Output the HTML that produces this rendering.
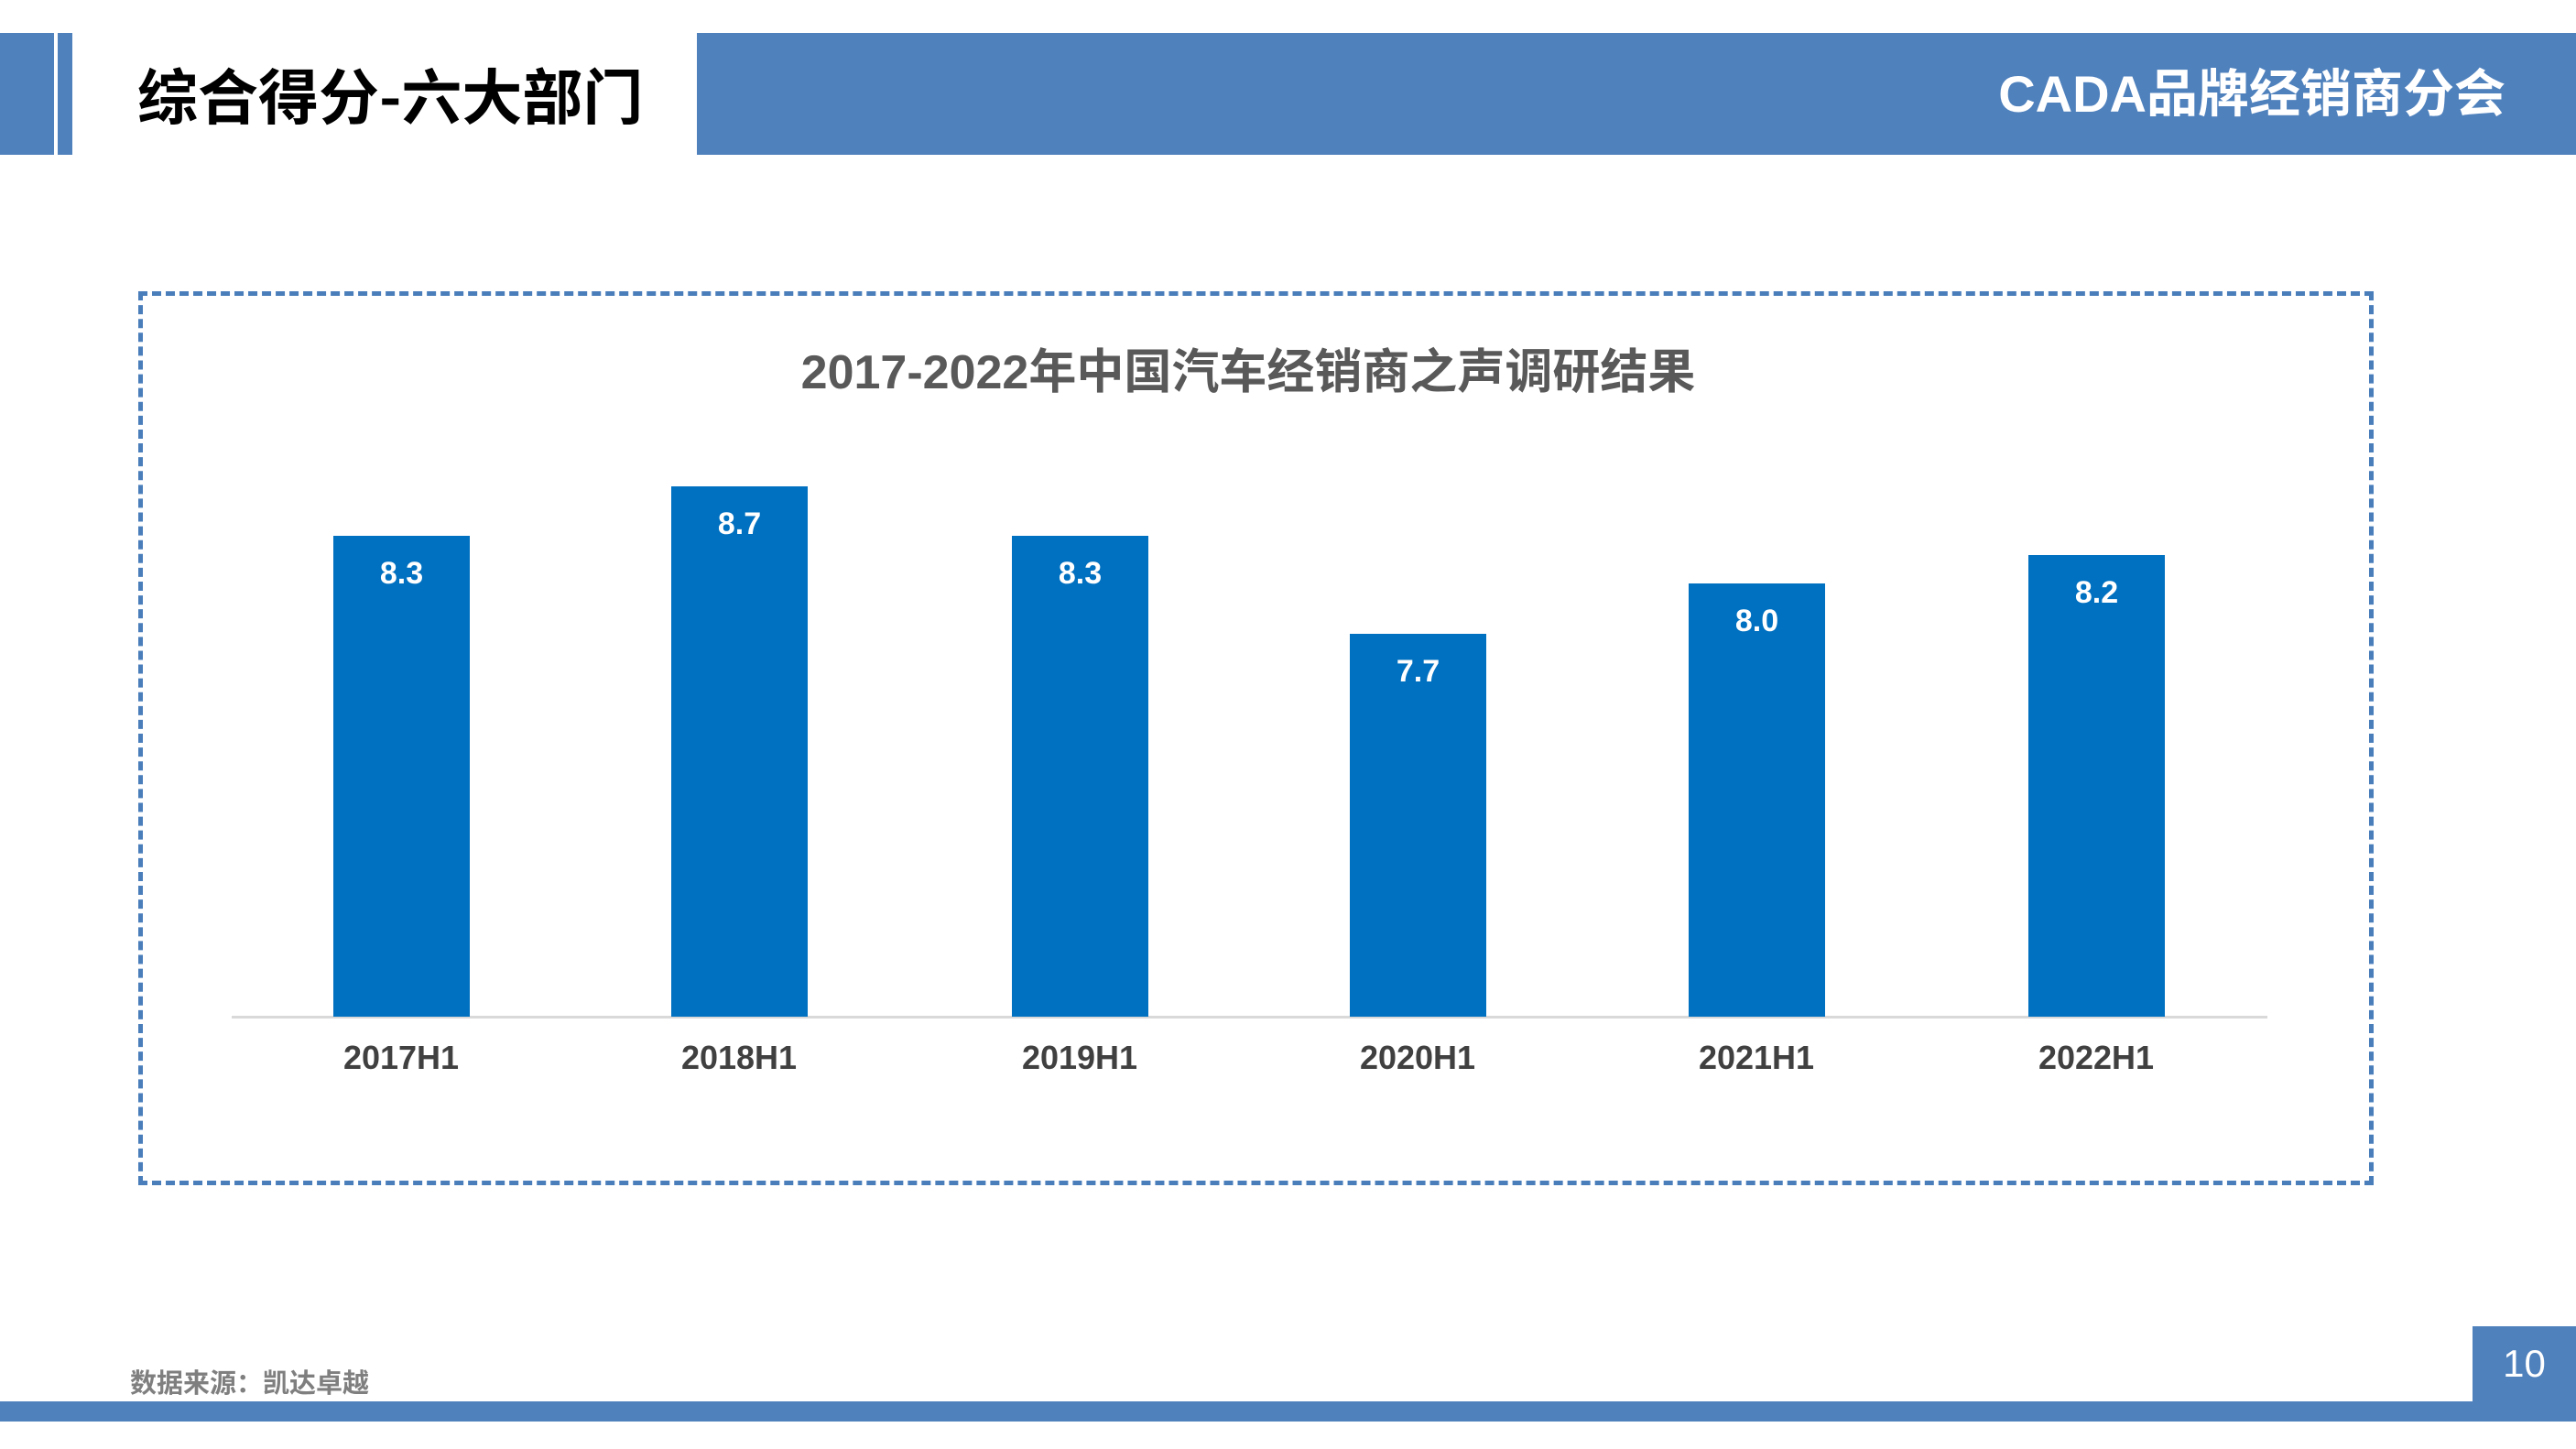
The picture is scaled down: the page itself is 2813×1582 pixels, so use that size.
<!DOCTYPE html>
<html><head><meta charset="utf-8"><style>
*{margin:0;padding:0;box-sizing:border-box}
body{width:2813px;height:1582px;background:#fff;position:relative;overflow:hidden;font-family:"Liberation Sans","Noto Sans CJK SC",sans-serif}
.a{position:absolute}
.bar{position:absolute;width:149px;background:#0070c0;bottom:472px}
.bar span{position:absolute;top:22px;left:0;width:100%;text-align:center;color:#fff;font-weight:bold;font-size:34px}
.xl{position:absolute;top:1134px;width:300px;text-align:center;font-size:36px;font-weight:bold;color:#404040}
</style></head><body>
<div class="a" style="left:0;top:36px;width:59px;height:133px;background:#4f81bd"></div>
<div class="a" style="left:63px;top:36px;width:16px;height:133px;background:#4f81bd"></div>
<div class="a" style="left:150px;top:52px;font-size:66px;font-weight:bold;color:#000;line-height:100px;font-family:'Noto Sans CJK SC',sans-serif">综合得分-六大部门</div>
<div class="a" style="left:761px;top:36px;width:2052px;height:133px;background:#4f81bd"></div>
<div class="a" style="right:77px;top:58px;font-size:56px;font-weight:bold;color:#fff;line-height:90px">CADA品牌经销商分会</div>
<div class="a" style="left:151px;top:318px;width:2441px;height:976px;border:5px dashed #4a7ebb"></div>
<div class="a" style="left:0;width:2726px;text-align:center;top:364px;font-size:52px;font-weight:bold;color:#595959">2017-2022年中国汽车经销商之声调研结果</div>
<div class="a" style="left:253px;top:1109px;width:2223px;height:3px;background:#d9d9d9"></div>
<div class="bar" style="left:364px;top:585px"><span>8.3</span></div>
<div class="bar" style="left:733px;top:531px"><span>8.7</span></div>
<div class="bar" style="left:1105px;top:585px"><span>8.3</span></div>
<div class="bar" style="left:1474px;top:692px"><span>7.7</span></div>
<div class="bar" style="left:1844px;top:637px"><span>8.0</span></div>
<div class="bar" style="left:2215px;top:606px"><span>8.2</span></div>
<div class="xl" style="left:288px">2017H1</div>
<div class="xl" style="left:657px">2018H1</div>
<div class="xl" style="left:1029px">2019H1</div>
<div class="xl" style="left:1398px">2020H1</div>
<div class="xl" style="left:1768px">2021H1</div>
<div class="xl" style="left:2139px">2022H1</div>
<div class="a" style="left:142px;top:1487px;font-size:29px;font-weight:bold;color:#7f7f7f">数据来源：凯达卓越</div>
<div class="a" style="left:0;top:1530px;width:2813px;height:22px;background:#4f81bd"></div>
<div class="a" style="left:2700px;top:1448px;width:113px;height:82px;background:#4f81bd;color:#fff;font-size:42px;text-align:center;line-height:82px">10</div>
</body></html>
